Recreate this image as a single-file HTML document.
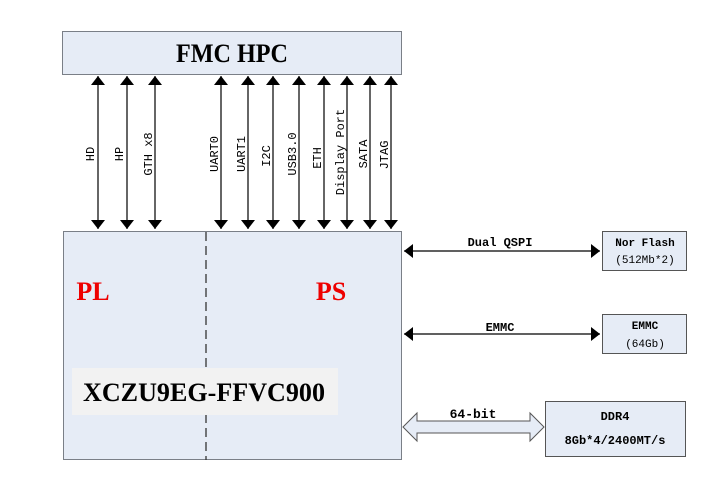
<!DOCTYPE html>
<html><head><meta charset="utf-8"><style>
body{margin:0;background:#fff}
svg{display:block}
text{font-family:"Liberation Mono","DejaVu Sans Mono",monospace}
</style></head><body>
<svg width="720" height="500" viewBox="0 0 720 500" xmlns="http://www.w3.org/2000/svg">
<defs>
<marker id="h" viewBox="0 0 10 10" refX="10" refY="5" markerWidth="9" markerHeight="14" markerUnits="userSpaceOnUse" orient="auto-start-reverse" preserveAspectRatio="none"><path d="M0,0 L10,5 L0,10 z" fill="#000"/></marker>
</defs>
<rect x="62.5" y="31.5" width="339" height="43" fill="#e6ecf6" stroke="#7a7f87"/>
<text x="232" y="62" text-anchor="middle" font-weight="bold" font-size="26" style="font-family:'Liberation Serif',serif" textLength="112" lengthAdjust="spacingAndGlyphs">FMC HPC</text>
<rect x="63.5" y="231.5" width="338" height="228" fill="#e6ecf6" stroke="#7a7f87"/>
<line x1="206" y1="232" x2="206" y2="460" stroke="#333" stroke-dasharray="9,5" stroke-width="1.3"/>
<rect x="72" y="368" width="266" height="47" fill="#f2f2f2"/>
<text x="204" y="401" text-anchor="middle" font-size="26" font-weight="bold" style="font-family:'Liberation Serif',serif" textLength="242" lengthAdjust="spacingAndGlyphs">XCZU9EG-FFVC900</text>
<text x="93" y="300" text-anchor="middle" fill="#e00" font-size="26" font-weight="bold" style="font-family:'Liberation Serif',serif">PL</text>
<text x="331" y="300" text-anchor="middle" fill="#e00" font-size="26" font-weight="bold" style="font-family:'Liberation Serif',serif">PS</text>
<g stroke="#000" stroke-width="1.2" marker-start="url(#h)" marker-end="url(#h)">
<line x1="98" y1="76" x2="98" y2="229"/><line x1="127" y1="76" x2="127" y2="229"/><line x1="155" y1="76" x2="155" y2="229"/>
<line x1="221" y1="76" x2="221" y2="229"/><line x1="248" y1="76" x2="248" y2="229"/><line x1="273" y1="76" x2="273" y2="229"/>
<line x1="299" y1="76" x2="299" y2="229"/><line x1="324" y1="76" x2="324" y2="229"/><line x1="347" y1="76" x2="347" y2="229"/>
<line x1="370" y1="76" x2="370" y2="229"/><line x1="391" y1="76" x2="391" y2="229"/>
</g>
<g font-size="12" text-anchor="middle" style="font-family:'Liberation Mono',monospace">
<text transform="translate(94,154) rotate(-90)">HD</text>
<text transform="translate(123,154) rotate(-90)">HP</text>
<text transform="translate(152,154) rotate(-90)">GTH x8</text>
<text transform="translate(218,154) rotate(-90)">UART0</text>
<text transform="translate(245,154) rotate(-90)">UART1</text>
<text transform="translate(270,156) rotate(-90)">I2C</text>
<text transform="translate(296,154) rotate(-90)">USB3.0</text>
<text transform="translate(321,158) rotate(-90)">ETH</text>
<text transform="translate(344,152) rotate(-90)">Display Port</text>
<text transform="translate(367,154) rotate(-90)">SATA</text>
<text transform="translate(388,155) rotate(-90)">JTAG</text>
</g>
<g stroke="#000" stroke-width="1.2" marker-start="url(#h)" marker-end="url(#h)">
<line x1="404" y1="251" x2="600" y2="251"/>
<line x1="404" y1="334" x2="600" y2="334"/>
</g>
<text x="500" y="246" text-anchor="middle" font-size="12" font-weight="bold">Dual QSPI</text>
<text x="500" y="331" text-anchor="middle" font-size="12" font-weight="bold">EMMC</text>
<rect x="602.5" y="231.5" width="84" height="39" fill="#e6ecf6" stroke="#555"/>
<text x="645" y="246" text-anchor="middle" font-size="11" font-weight="bold">Nor Flash</text>
<text x="645" y="263" text-anchor="middle" font-size="11">(512Mb*2)</text>
<rect x="602.5" y="314.5" width="84" height="39" fill="#e6ecf6" stroke="#555"/>
<text x="645" y="329" text-anchor="middle" font-size="11" font-weight="bold">EMMC</text>
<text x="645" y="347" text-anchor="middle" font-size="11">(64Gb)</text>
<path d="M403,427 L417,413 L417,421 L530,421 L530,413 L544,427 L530,441 L530,433 L417,433 L417,441 Z" fill="#e6ecf6" stroke="#555"/>
<text x="473" y="418" text-anchor="middle" font-size="13" font-weight="bold">64-bit</text>
<rect x="545.5" y="401.5" width="140" height="55" fill="#e6ecf6" stroke="#555"/>
<text x="615" y="420" text-anchor="middle" font-size="12" font-weight="bold">DDR4</text>
<text x="615" y="444" text-anchor="middle" font-size="12" font-weight="bold">8Gb*4/2400MT/s</text>
</svg>
</body></html>
